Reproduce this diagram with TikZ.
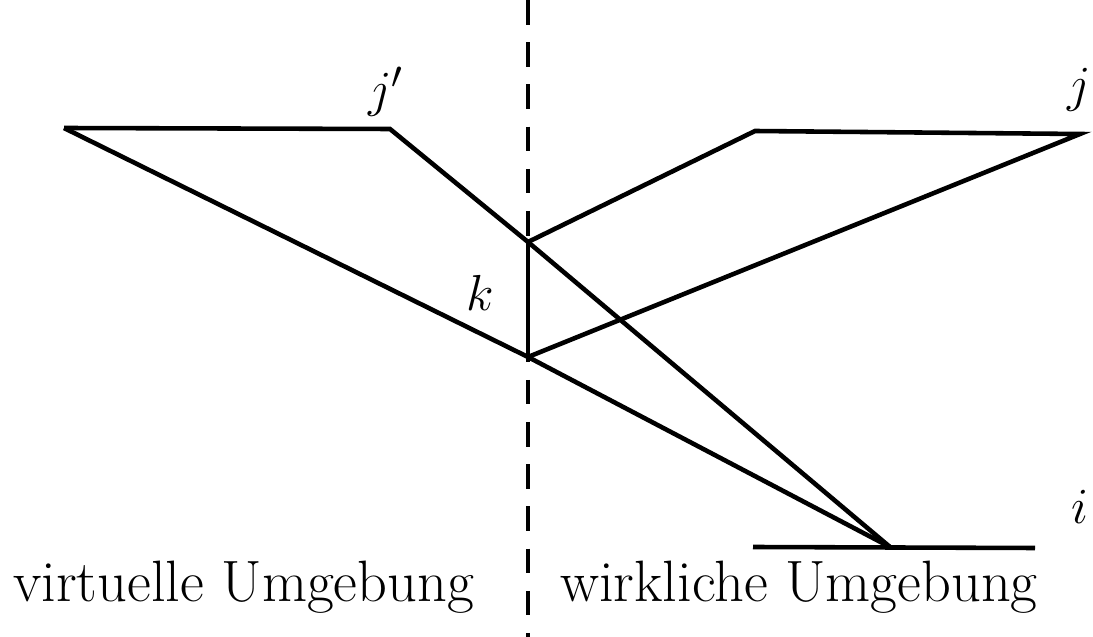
\documentclass[tikz,border=0pt]{standalone}
\usepackage{tikz}
\usetikzlibrary{positioning}
\begin{document}
\begin{tikzpicture}[x=0.01cm, y=-0.01cm, line width=1.3pt, every node/.style={font=\fontsize{15.7}{19}\selectfont, inner sep=0pt}]
            \useasboundingbox (0,0) rectangle (1093,637);
            % mirror plane
            \coordinate (wtop) at (528,0);
            \coordinate (wbot) at (528,637);
            \draw[line width=1pt, dash pattern=on 7pt off 5pt] (wtop) -- (wbot);
            % corner points
            \coordinate (vl) at (64,128);
            \coordinate (jv) at (390,129);
            \coordinate (kup) at (528,242);
            \coordinate (klo) at (528,357);
            \coordinate (rl) at (755,131);
            \coordinate (jr) at (1080,134);
            \coordinate (src) at (890,547);
            \coordinate (il) at (753,547);
            \coordinate (ir) at (1035,548);
            \draw (vl) -- (jv) -- (kup) -- (src);
            \draw (vl) -- (klo) -- (src);
            \draw (kup) -- (klo);
            \draw (kup) -- (rl) -- (jr) -- (klo);
            \draw (il) -- (ir);
            % labels
            \node (ljv) at (386,92) {$j'$};
            \node (ljr) at (1079,90) {$j$};
            \node (lk) at (480,293) {$k$};
            \node (li) at (1080,507) {$i$};
            \node[anchor=base west, font=\fontsize{16.6}{20}\selectfont] (virt) at (11,602) {virtuelle Umgebung};
            \node[anchor=base west, font=\fontsize{16.6}{20}\selectfont] (wirk) at (558,602) {wirkliche Umgebung};
        \end{tikzpicture}
\end{document}
